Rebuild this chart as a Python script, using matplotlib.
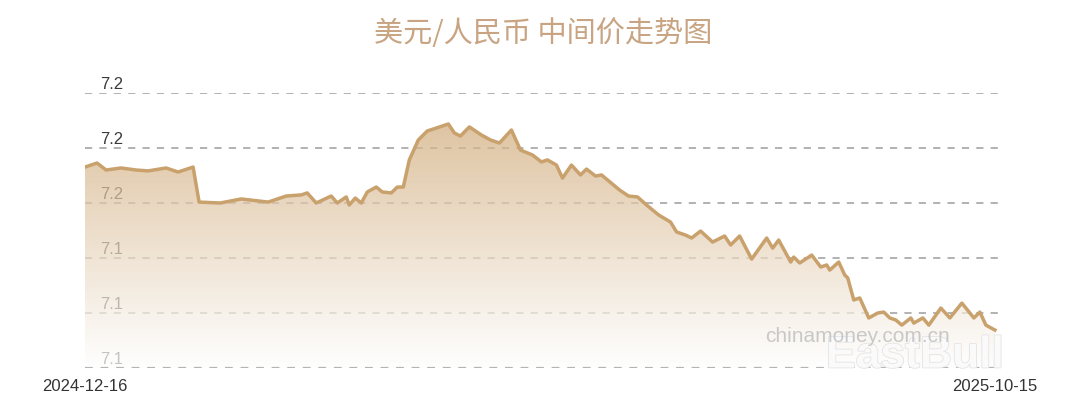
import matplotlib
matplotlib.use("Agg")
import matplotlib.pyplot as plt
import matplotlib.dates as mdates
import matplotlib.patheffects as pe
from matplotlib.colors import to_rgb
import numpy as np
import pandas as pd

plt.rcParams['font.family'] = ['Liberation Sans', 'DejaVu Sans']

# USD/CNY central parity
dates = [
    "2024-12-16", "2024-12-20", "2024-12-23", "2024-12-28", "2025-01-02", "2025-01-06", "2025-01-12", "2025-01-16", "2025-01-21", "2025-01-23",
    "2025-01-30", "2025-02-06", "2025-02-15", "2025-02-21", "2025-02-26", "2025-02-28", "2025-03-03", "2025-03-08", "2025-03-10", "2025-03-13",
    "2025-03-14", "2025-03-16", "2025-03-18", "2025-03-20", "2025-03-23", "2025-03-25", "2025-03-28", "2025-03-30", "2025-04-01", "2025-04-03",
    "2025-04-06", "2025-04-09", "2025-04-12", "2025-04-16", "2025-04-18", "2025-04-20", "2025-04-23", "2025-04-27", "2025-04-30", "2025-05-03",
    "2025-05-07", "2025-05-10", "2025-05-14", "2025-05-17", "2025-05-19", "2025-05-22", "2025-05-24", "2025-05-27", "2025-05-30", "2025-06-01",
    "2025-06-04", "2025-06-06", "2025-06-12", "2025-06-15", "2025-06-18", "2025-06-21", "2025-06-23", "2025-06-25", "2025-06-29", "2025-07-01",
    "2025-07-04", "2025-07-06", "2025-07-09", "2025-07-13", "2025-07-17", "2025-07-19", "2025-07-22", "2025-07-26", "2025-07-31", "2025-08-02",
    "2025-08-04", "2025-08-08", "2025-08-09", "2025-08-11", "2025-08-15", "2025-08-18", "2025-08-20", "2025-08-21", "2025-08-24", "2025-08-26",
    "2025-08-27", "2025-08-29", "2025-08-31", "2025-09-03", "2025-09-06", "2025-09-08", "2025-09-10", "2025-09-12", "2025-09-14", "2025-09-17",
    "2025-09-18", "2025-09-21", "2025-09-23", "2025-09-27", "2025-09-30", "2025-10-04", "2025-10-08", "2025-10-10", "2025-10-12", "2025-10-15",
]
rates = [
    7.1796, 7.1818, 7.1780, 7.1791, 7.1780, 7.1775, 7.1791, 7.1769, 7.1796, 7.1605,
    7.1600, 7.1622, 7.1605, 7.1638, 7.1644, 7.1655, 7.1600, 7.1638, 7.1600, 7.1633,
    7.1589, 7.1627, 7.1600, 7.1660, 7.1687, 7.1660, 7.1655, 7.1687, 7.1687, 7.1835,
    7.1944, 7.1993, 7.2009, 7.2031, 7.1982, 7.1965, 7.2015, 7.1971, 7.1944, 7.1927,
    7.1998, 7.1889, 7.1862, 7.1824, 7.1835, 7.1807, 7.1736, 7.1807, 7.1753, 7.1785,
    7.1747, 7.1753, 7.1671, 7.1638, 7.1633, 7.1589, 7.1562, 7.1535, 7.1496, 7.1442,
    7.1425, 7.1409, 7.1447, 7.1387, 7.1420, 7.1371, 7.1420, 7.1294, 7.1409, 7.1354,
    7.1398, 7.1278, 7.1305, 7.1273, 7.1316, 7.1251, 7.1262, 7.1234, 7.1278, 7.1207,
    7.1191, 7.1071, 7.1082, 7.0973, 7.1000, 7.1005, 7.0973, 7.0962, 7.0934, 7.0973,
    7.0945, 7.0973, 7.0934, 7.1027, 7.0973, 7.1054, 7.0973, 7.1005, 7.0934, 7.0907,
]
y_ticks = [7.07, 7.10, 7.13, 7.16, 7.19, 7.22]
title = "美元/人民币 中间价走势图"

line_color = "#c9a16c"
fill_top = "#d2ad7e"

x = pd.to_datetime(dates)
xn = mdates.date2num(x)
y_min, y_max = y_ticks[0], y_ticks[-1]

fig = plt.figure(figsize=(10.8, 4.09), dpi=100)
ax = fig.add_axes([85 / 1080, 1 - 368 / 409, 915 / 1080, 275 / 409])

######################################
# grid + y labels (under the fill)
######################################
for v in y_ticks[1:]:
    ax.axhline(v, color="#a0a0a0", lw=1.15, ls=(0, (4.5, 4.5)), zorder=1)
for v in y_ticks:
    ax.annotate(f"{v:.1f}", xy=(0, v), xycoords=("axes fraction", "data"),
                xytext=(15, 4), textcoords="offset pixels",
                fontsize=12, color="#3a3a3a", va="baseline", ha="left", zorder=1)
# bottom line sits on top of the fill
ax.axhline(y_min, color="#b4b4b4", lw=1.6, ls=(0, (3.5, 3.5)), zorder=4)

######################################
# gradient area
######################################
poly = ax.fill_between(x, rates, y_min, color="none", lw=0)
grad = np.ones((256, 1, 4))
top_rgb = np.array(to_rgb(fill_top))
t = np.linspace(0, 1, 256)[:, None]
grad[:, 0, :3] = top_rgb * (1 - t) + np.ones(3) * t
grad[:, 0, 3] = 0.72
im = ax.imshow(grad, extent=[xn[0], xn[-1], y_min, max(rates)],
               aspect="auto", origin="upper", zorder=2, interpolation="bilinear")
im.set_clip_path(poly.get_paths()[0], transform=ax.transData)

ax.plot(x, rates, color=line_color, lw=2.5, zorder=3, solid_joinstyle="round")

######################################
# axes settings
######################################
ax.set_ylim(y_min, y_max)
ax.set_xlim(xn[0], xn[0] + 304.7)
ax.set_yticks([])
ax.set_xticks(xn[[0, -1]])
ax.set_xticklabels([x[0].strftime("%Y-%m-%d"), x[-1].strftime("%Y-%m-%d")])
ax.tick_params(axis="x", length=0, pad=8, labelsize=12, labelcolor="#333333")
for s in ax.spines.values():
    s.set_visible(False)
ax.patch.set_alpha(0)

fig.text(543 / 1080, 1 - 34 / 409, title, ha="center", va="center",
         fontsize=21, color="#c8a482", family=["Noto Sans CJK SC", "DejaVu Sans"])

# watermarks
fig.text(857 / 1080, 1 - 337 / 409, "chinamoney.com.cn", ha="center", va="center",
         fontsize=15, color="#bdbdbd", alpha=0.8, zorder=5)
fig.text(915 / 1080, 1 - 356 / 409, "EastBull", ha="center", va="center",
         fontsize=32, fontweight="bold", color="#fafafa", zorder=4,
         path_effects=[pe.withStroke(linewidth=1.2, foreground="#e4e4e4")])

fig.savefig("out.png", dpi=100)
